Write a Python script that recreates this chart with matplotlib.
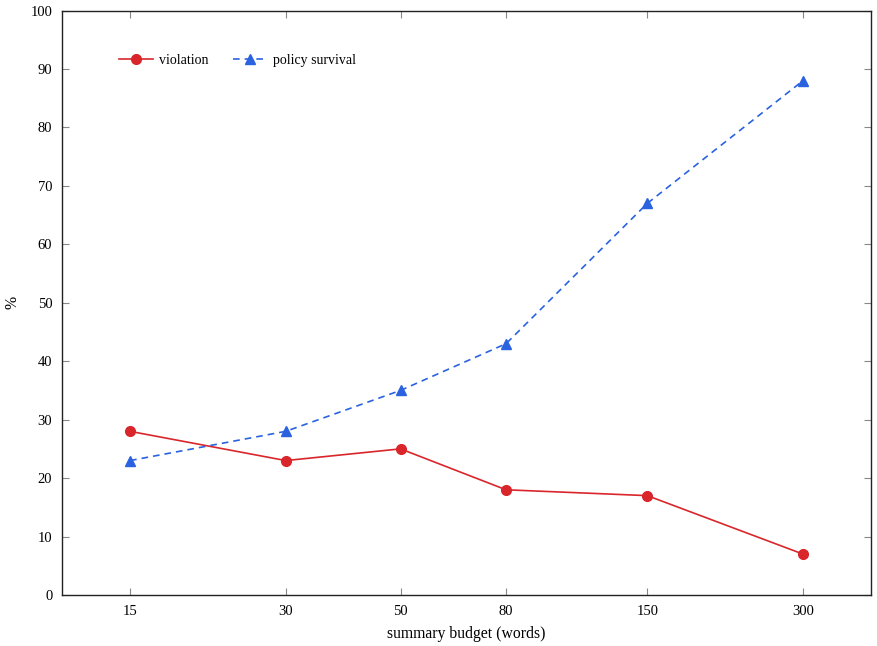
import matplotlib
matplotlib.use("Agg")
import matplotlib.pyplot as plt
from matplotlib.ticker import FixedLocator, NullLocator

plt.rcParams['font.family'] = ['Liberation Serif', 'DejaVu Serif']
plt.rcParams['mathtext.fontset'] = 'stix'

budget = [15, 30, 50, 80, 150, 300]
violation = [28, 23, 25, 18, 17, 7]
survival = [23, 28, 35, 43, 67, 88]
yticks = list(range(0, 101, 10))

fig = plt.figure(figsize=(8.78, 6.46), dpi=100)
ax = fig.add_axes([62 / 878, 51 / 646, 809 / 878, 584.5 / 646])

ax.plot(budget, violation, color='#d9262b', lw=1.2, marker='o', ms=7,
        label='violation')
ax.plot(budget, survival, color='#2a62e0', lw=1.2, ls=(0, (4, 3)),
        marker='^', ms=6.5, label='policy survival')

ax.set_xscale('log')
ax.set_xlim(11.08, 406)
ax.set_ylim(0, 100)
ax.xaxis.set_major_locator(FixedLocator(budget))
ax.xaxis.set_minor_locator(NullLocator())
ax.set_xticklabels([str(b) for b in budget])
ax.set_yticks(yticks)

ax.tick_params(direction='in', length=5, color='#888888', width=0.8,
               labelsize=10.5, top=True, right=True, pad=7)
for s in ax.spines.values():
    s.set_linewidth(1.0)
    s.set_color('#222222')

ax.set_xlabel('summary budget (words)', fontsize=11.3)
ax.xaxis.set_label_coords(0.5, -0.0535)
ax.set_ylabel('%', fontsize=11.3, va='center')
ax.yaxis.set_label_coords(-0.0617, 0.5)

ax.legend(loc='center left', bbox_to_anchor=(0.0706, 0.914), ncol=2, frameon=False,
          fontsize=10, handlelength=2.45, columnspacing=1.75, handletextpad=0.45,
          borderaxespad=0, borderpad=0)

fig.savefig('out.png', dpi=100)
